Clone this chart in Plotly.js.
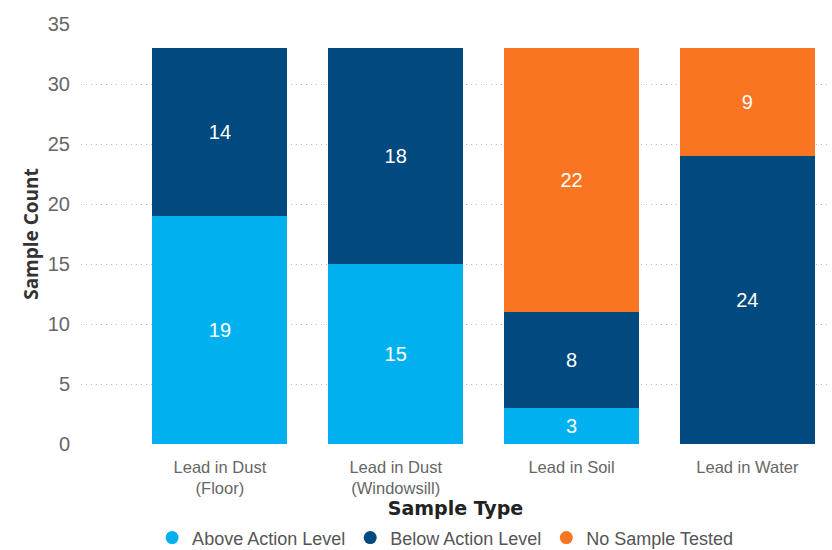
<!DOCTYPE html>
<html><head><meta charset="utf-8">
<script src="https://cdn.plot.ly/plotly-3.0.1.min.js"></script>
<style>html,body{margin:0;padding:0;background:#fff}#chart{width:832px;height:550px}</style>
</head><body><div id="chart"></div>
<script>
const categories = ["Lead in Dust<br>(Floor)", "Lead in Dust<br>(Windowsill)", "Lead in Soil", "Lead in Water"];
const aboveAction = [19, 15, 3, null];
const belowAction = [14, 18, 8, 24];
const noSample = [null, null, 22, 9];
const seriesNames = ["Above Action Level", "Below Action Level", "No Sample Tested"];
const colors = ["#01B0EF", "#004A7F", "#F97521"];
const yTicks = [0, 5, 10, 15, 20, 25, 30, 35];

const seriesVals = [aboveAction, belowAction, noSample];
const xIdx = categories.map((c, i) => i);
const traces = seriesVals.map((v, k) => ({
  type: "bar", x: xIdx, y: v, name: seriesNames[k],
  marker: {color: colors[k]},
  text: v.map(d => d == null ? "" : String(d)),
  textposition: "inside", insidetextanchor: "middle",
  textfont: {family: "Liberation Sans, Arial, sans-serif", size: 20, color: "#ffffff"},
  hoverinfo: "skip", showlegend: false
}));
seriesNames.forEach((n, k) => traces.push({
  type: "scatter", mode: "markers", x: [null], y: [null], name: n,
  marker: {color: colors[k], size: 13, symbol: "circle"}, showlegend: true
}));

const layout = {
  width: 832, height: 550,
  margin: {l: 81, r: 2, t: 24, b: 106},
  paper_bgcolor: "#fff", plot_bgcolor: "#fff",
  barmode: "stack", bargap: 0.233,
  showlegend: true,
  legend: {orientation: "h", traceorder: "normal", xref: "container", x: 0.535, xanchor: "center",
    yref: "container", y: 0.022, yanchor: "middle",
    font: {family: "Liberation Sans, Arial, sans-serif", size: 18, color: "#555"},
    itemwidth: 30, tracegroupgap: 0},
  xaxis: {
    type: "linear", range: [-0.79, 3.47], automargin: false,
    tickvals: xIdx, ticktext: categories,
    tickfont: {family: "Liberation Sans, Arial, sans-serif", size: 16.5, color: "#666"},
    showgrid: false, zeroline: false, showline: false, ticks: "", ticklabelstandoff: 11,
    title: {text: "<b>Sample Type</b>", font: {family: "DejaVu Sans, sans-serif", size: 19, color: "#222"}}
  },
  yaxis: {
    range: [0, 35], tickvals: yTicks, automargin: false,
    tickfont: {family: "Liberation Sans, Arial, sans-serif", size: 20, color: "#666"},
    showgrid: true, gridcolor: "#bdbdbd", griddash: "1px,4px", gridwidth: 1,
    zeroline: false, showline: false, ticks: "", ticklabelstandoff: 10,
    title: {text: "<b>Sample Count</b>", font: {family: "Open Sans, sans-serif", size: 19, color: "#333"}, standoff: 4}
  }
};
Plotly.newPlot("chart", traces, layout, {displayModeBar: false, staticPlot: true});
</script></body></html>
